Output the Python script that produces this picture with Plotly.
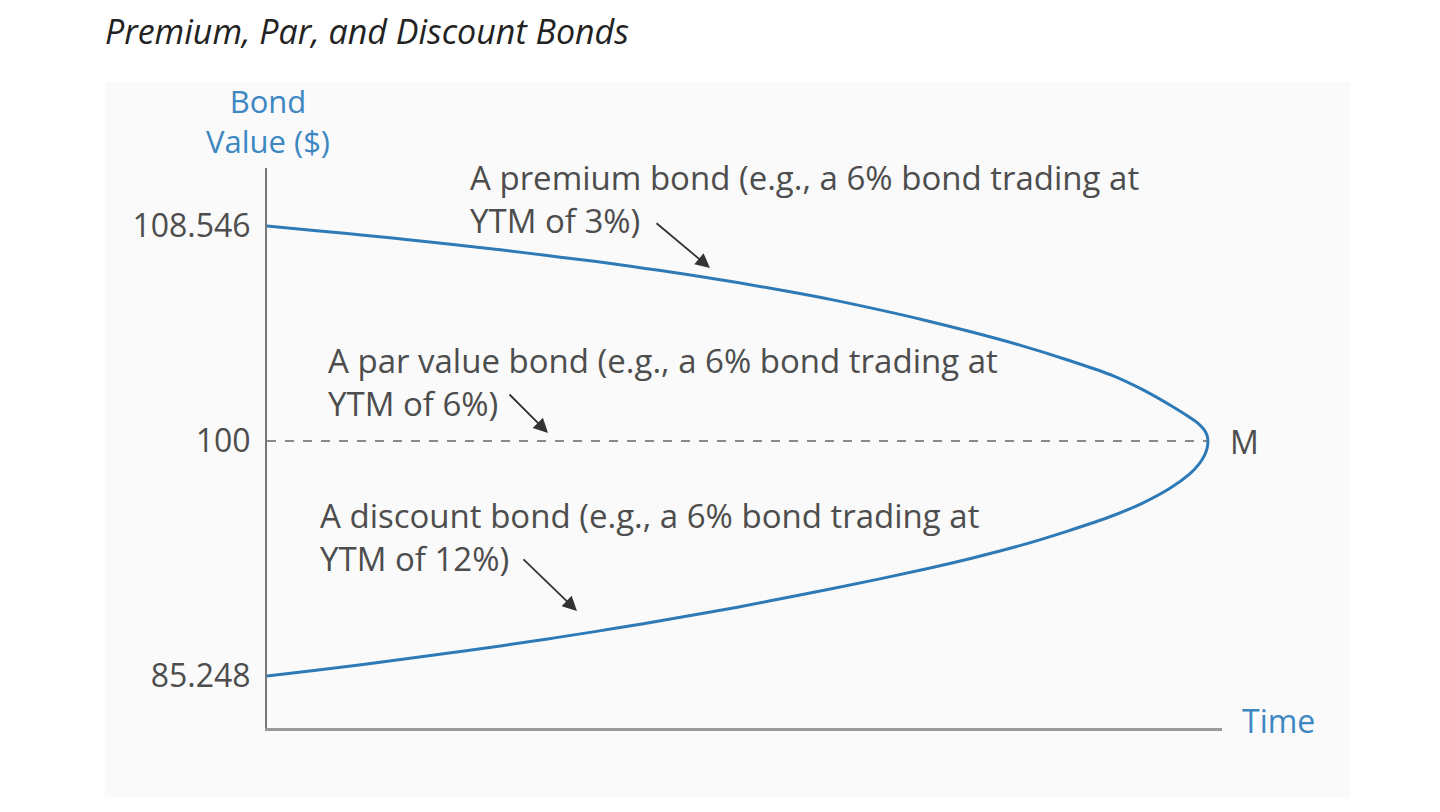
import plotly.graph_objects as go

# Tiempo hasta el vencimiento (años) y valores
tiempo = [0, 0.5, 1, 1.5, 2, 2.5, 3, 3.5, 4, 4.5, 5, 5.5, 6, 6.5, 7, 7.5, 8, 8.5, 9,
          9.3, 9.6, 9.8, 9.9, 9.96, 9.99, 10]
bono_premium = [108.546, 108.37, 108.19, 108.00, 107.80, 107.59, 107.36, 107.13, 106.87,
                106.60, 106.30, 105.97, 105.62, 105.22, 104.79, 104.32, 103.81, 103.23,
                102.58, 102.05, 101.42, 100.95, 100.68, 100.44, 100.22, 100.0]
bono_descuento = [85.248, 85.60, 85.96, 86.34, 86.74, 87.15, 87.59, 88.05, 88.53,
                  89.04, 89.57, 90.14, 90.72, 91.33, 91.97, 92.66, 93.43, 94.33,
                  95.34, 96.09, 97.05, 97.91, 98.52, 99.07, 99.53, 100.0]
tiempo_par = [0, 10]
bono_par = [100, 100]

ticks_arriba = [108.546]
ticks_abajo = [100, 85.248]

AZUL = '#2e7ab6'
AZUL_TEXTO = '#3d87c2'
GRIS_TEXTO = '#4d4d4d'
FUENTE = 'Open Sans'

# Posiciones en pixeles (de la pagina) del area de trazado
OFF = 8  # margen del body de la pagina
L, R, T, B = 267, 1222, 168, 728
W, H = R - L, B - T


def px(x):
    return (x - L) / W


def py(y):
    return (B - y) / H


# El eje vertical no es lineal: se parte en dos tramos que se juntan en 100
y100 = py(441)
solape = 0.02
esc_arriba = 25.16   # px por unidad encima de 100
esc_abajo = 15.93    # px por unidad debajo de 100

fig = go.Figure()

fig.add_trace(go.Scatter(
    x=tiempo_par, y=bono_par, mode='lines', yaxis='y',
    line=dict(color='#666666', width=1.6, dash='dash'), hoverinfo='skip'
))
fig.add_trace(go.Scatter(
    x=tiempo, y=bono_descuento, mode='lines', yaxis='y',
    line=dict(color=AZUL, width=3, shape='spline')
))
fig.add_trace(go.Scatter(
    x=tiempo, y=bono_premium, mode='lines', yaxis='y2',
    line=dict(color=AZUL, width=3, shape='spline')
))

fig.add_shape(type='rect', xref='paper', yref='paper', layer='below',
              x0=px(105), x1=px(1350), y0=py(797), y1=py(82),
              fillcolor='#fafafa', line=dict(width=0))

etiquetas = [
    ('A premium bond (e.g., a 6% bond trading at<br>YTM of 3%)', 468, 199),
    ('A par value bond (e.g., a 6% bond trading at<br>YTM of 6%)', 326, 382),
    ('A discount bond (e.g., a 6% bond trading at<br>YTM of 12%)', 318, 537),
]
for texto, x, y in etiquetas:
    fig.add_annotation(xref='paper', yref='paper', x=px(x), y=py(y),
                       xanchor='left', yanchor='middle', align='left',
                       text=texto, showarrow=False,
                       font=dict(family=FUENTE, size=33, color=GRIS_TEXTO))

flechas = [((710, 268), (655, 222)), ((548, 433), (508, 393)), ((577, 611), (522, 558))]
for (hx, hy), (tx, ty) in flechas:
    fig.add_annotation(xref='paper', yref='paper', x=px(hx), y=py(hy),
                       ax=tx - hx, ay=ty - hy, text='', showarrow=True,
                       arrowhead=2, arrowsize=1.6, arrowwidth=1.8, arrowcolor='#333333')

fig.add_annotation(xref='paper', yref='paper', x=px(1228), y=py(441),
                   xanchor='left', yanchor='middle', text='M', showarrow=False,
                   font=dict(family=FUENTE, size=32, color=GRIS_TEXTO))
fig.add_annotation(xref='paper', yref='paper', x=px(1240), y=py(720),
                   xanchor='left', yanchor='middle', text='Time', showarrow=False,
                   font=dict(family=FUENTE, size=32, color=AZUL_TEXTO))
fig.add_annotation(xref='paper', yref='paper', x=px(268), y=py(121),
                   xanchor='center', yanchor='middle', align='center',
                   text='Bond<br>Value ($)', showarrow=False,
                   font=dict(family=FUENTE, size=31, color=AZUL_TEXTO))

fig.update_layout(
    width=1440,
    height=812,
    margin=dict(l=L - OFF, r=1440 - (L - OFF) - W, t=T - OFF, b=812 - (T - OFF) - H),
    paper_bgcolor='white',
    plot_bgcolor='rgba(0,0,0,0)',
    showlegend=False,
    title=dict(text='<i>Premium, Par, and Discount Bonds</i>',
               x=(105 - OFF) / 1440, xanchor='left', y=1 - (32 - OFF) / 812, yanchor='middle',
               font=dict(family=FUENTE, size=34, color='#222222')),
    xaxis=dict(range=[0, (R - L) / 94.1], showgrid=False, zeroline=False,
               showticklabels=False, ticks='', showline=True,
               linecolor='#9a9a9a', linewidth=3),
    yaxis=dict(domain=[0, y100 + solape],
               range=[100 - (B - 441) / esc_abajo, 100 + solape * H / esc_abajo],
               tickvals=ticks_abajo, ticktext=['100', '85.248'],
               showgrid=False, zeroline=False, ticks='', showline=True,
               linecolor='#777777', linewidth=2, ticklabelstandoff=8,
               tickfont=dict(family=FUENTE, size=32, color=GRIS_TEXTO)),
    yaxis2=dict(domain=[y100 - solape, 1], anchor='x',
                range=[100 - solape * H / esc_arriba, 100 + (441 - T) / esc_arriba],
                tickvals=ticks_arriba, ticktext=['108.546'],
                showgrid=False, zeroline=False, ticks='', showline=True,
                linecolor='#777777', linewidth=2, ticklabelstandoff=8,
                tickfont=dict(family=FUENTE, size=32, color=GRIS_TEXTO)),
)

fig.write_html("out.html")
